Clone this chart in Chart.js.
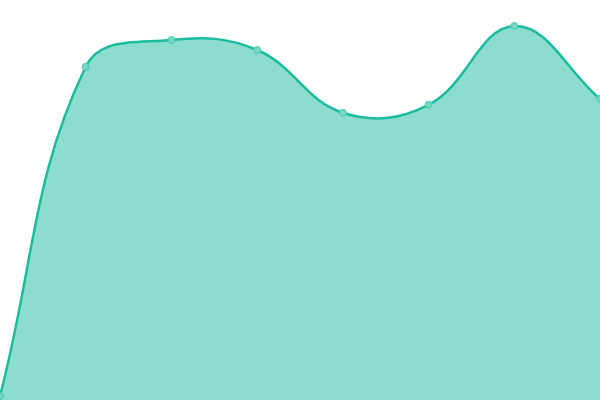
<!DOCTYPE html>
<html>
<head>
<meta charset="utf-8">
<style>
html,body{margin:0;padding:0;background:#fff;overflow:hidden;}
canvas{display:block;}
</style>
<script src="https://cdn.jsdelivr.net/npm/chart.js@4/dist/chart.umd.min.js"></script>
</head>
<body>
<canvas id="c" width="600" height="400"></canvas>
<script>
const categories = ["1", "2", "3", "4", "5", "6", "7", "8"];
const seriesValues = [1, 83.3, 90, 87.5, 71.8, 73.8, 93.5, 75.3];

new Chart(document.getElementById('c'), {
  type: 'line',
  data: {
    labels: categories,
    datasets: [{
      data: seriesValues,
      borderColor: '#1abc9c',
      backgroundColor: 'rgba(26,188,156,0.5)',
      borderWidth: 2.5,
      fill: 'origin',
      tension: 0.4,
      pointRadius: 3.5,
      pointBackgroundColor: '#76d7c4',
      pointBorderColor: '#48c9b0',
      pointBorderWidth: 1
    }]
  },
  options: {
    responsive: false,
    animation: false,
    devicePixelRatio: 1,
    layout: { padding: 0, autoPadding: false },
    plugins: { legend: { display: false }, tooltip: { enabled: false } },
    scales: {
      x: { display: false, offset: false },
      y: { display: false, min: 0, max: 100 }
    }
  }
});
</script>
</body>
</html>
